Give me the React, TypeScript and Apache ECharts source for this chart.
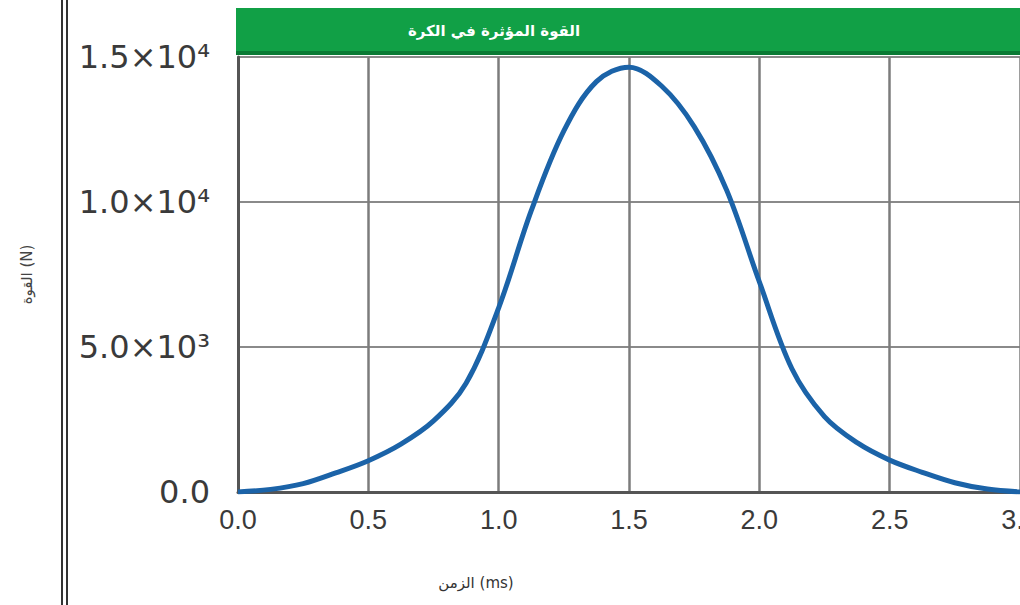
import React, { useEffect, useRef } from "react";
import * as echarts from "echarts";

// time in ms
const times = [0, 0.125, 0.25, 0.375, 0.5, 0.625, 0.75, 0.875, 1.0, 1.125, 1.25, 1.375, 1.5, 1.625, 1.75, 1.875, 2.0, 2.125, 2.25, 2.375, 2.5, 2.625, 2.75, 2.875, 3.0];
// force in N
const forces = [0, 90, 290, 660, 1080, 1650, 2450, 3750, 6350, 9700, 12450, 14150, 14650, 14000, 12600, 10400, 7250, 4250, 2600, 1700, 1100, 680, 320, 100, 0];

const yTickValues = [0, 5000, 10000, 15000];
const yTickLabels = ["0.0", "5.0×10³", "1.0×10⁴", "1.5×10⁴"];

const chartTitle = "القوة المؤثرة في الكرة";
const xAxisName = "الزمن (ms)";
const yAxisName = "القوة (N)";

export default function App() {
  const ref = useRef<HTMLDivElement>(null);

  useEffect(() => {
    if (!ref.current) return;
    const chart = echarts.init(ref.current, undefined, { renderer: "svg" });
    const data = times.map((t, i) => [t, forces[i]]);

    chart.setOption({
      animation: false,
      backgroundColor: "#ffffff",
      grid: {
        left: 238,
        right: 0,
        top: 57,
        bottom: 113,
        containLabel: false,
        outerBoundsMode: "none",
      },
      xAxis: {
        type: "value",
        min: 0,
        max: 3,
        interval: 0.5,
        axisLine: { show: true, onZero: false, lineStyle: { color: "#555555", width: 3 } },
        axisTick: { show: false },
        axisLabel: {
          margin: 14,
          fontFamily: "Liberation Sans, Arial, sans-serif",
          fontSize: 27,
          color: "#3a3a3a",
          formatter: (v: number) => v.toFixed(1),
        },
        splitLine: { show: true, lineStyle: { color: "#7c7c7c", width: 2.5 } },
      },
      yAxis: {
        type: "value",
        min: 0,
        max: 15000,
        interval: 5000,
        name: yAxisName,
        nameLocation: "middle",
        nameGap: 204,
        nameRotate: 90,
        nameTextStyle: { fontSize: 15, color: "#444", fontFamily: "DejaVu Sans, sans-serif" },
        axisLine: { show: true, lineStyle: { color: "#555555", width: 3 } },
        axisTick: { show: false },
        axisLabel: {
          margin: 28,
          fontFamily: "DejaVu Sans, sans-serif",
          fontSize: 32,
          color: "#3a3a3a",
          formatter: (v: number) => {
            const i = yTickValues.indexOf(v);
            return i >= 0 ? yTickLabels[i] : "";
          },
        },
        splitLine: { show: true, lineStyle: { color: "#8a8a8a", width: 2 } },
      },
      series: [
        {
          type: "line",
          data,
          smooth: 0.35,
          showSymbol: false,
          symbol: "none",
          lineStyle: { color: "#1b63a8", width: 5 },
          z: 5,
        },
      ],
      graphic: [
        {
          type: "rect",
          shape: { x: 236, y: 8, width: 784, height: 46 },
          style: { fill: "#11a046" },
          z: 10,
        },
        {
          type: "rect",
          shape: { x: 236, y: 51, width: 784, height: 4 },
          style: { fill: "#0a7a34" },
          z: 10,
        },
        {
          type: "text",
          x: 494,
          y: 31,
          z: 11,
          style: {
            text: chartTitle,
            fill: "#ffffff",
            font: "bold 15px 'DejaVu Sans', sans-serif",
            textAlign: "center",
            textVerticalAlign: "middle",
          },
        },
        {
          type: "text",
          x: 476,
          y: 583,
          z: 11,
          style: {
            text: xAxisName,
            fill: "#333333",
            font: "15px 'DejaVu Sans', sans-serif",
            textAlign: "center",
            textVerticalAlign: "middle",
          },
        },
        {
          type: "rect",
          shape: { x: 61, y: 0, width: 2, height: 605 },
          style: { fill: "#333333" },
        },
        {
          type: "rect",
          shape: { x: 66, y: 0, width: 2, height: 605 },
          style: { fill: "#333333" },
        },
      ],
    });

    return () => chart.dispose();
  }, []);

  return (
    <div
      ref={ref}
      style={{ position: "fixed", left: 0, top: 0, width: 1020, height: 605 }}
    />
  );
}
